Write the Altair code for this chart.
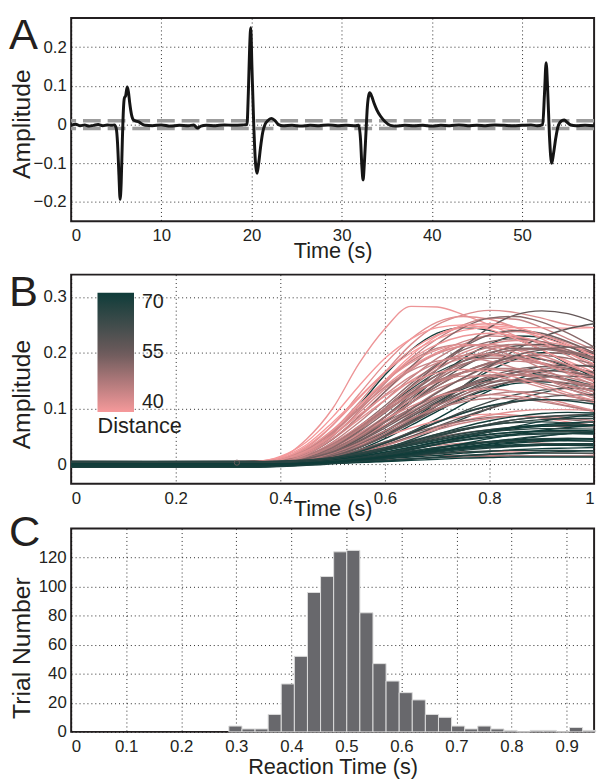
import altair as alt
import pandas as pd

FONT = "Liberation Sans"
TXT = "#231f20"

# ---------------- Panel A: single trace ----------------
a_time = [0, 0.5, 1.0, 1.5, 2.0, 2.5, 3.0, 3.5, 4.0, 4.5, 4.8, 5.0, 5.15, 5.3, 5.43, 5.55, 5.68,
          5.8, 5.9, 6.05, 6.22, 6.35, 6.5, 6.7, 6.9, 7.2, 7.5, 7.8, 8.2, 9, 10, 11, 12, 13, 13.6,
          14.0, 14.4, 15, 16, 17, 18, 19, 19.5, 19.65, 19.8, 19.92, 20.05, 20.25, 20.45, 20.62,
          20.8, 21.0, 21.25, 21.5, 21.8, 22.2, 22.6, 23.0, 23.5, 24.5, 25.5, 26.5, 27.5, 28.5,
          29.5, 30.5, 31.5, 31.9, 32.1, 32.25, 32.38, 32.52, 32.7, 32.85, 33.0, 33.12, 33.35,
          33.6, 33.9, 34.3, 34.8, 35.4, 36, 37, 38, 39, 40, 41, 42, 43, 44, 45, 46, 47, 48, 49,
          50, 51, 51.7, 52.3, 52.5, 52.68, 52.85, 53.05, 53.3, 53.5, 53.75, 54.0, 54.4, 54.7,
          55.0, 55.4, 56, 57, 58]
a_amp = [-0.002, 0.001, -0.003, -0.001, -0.004, -0.002, 0.000, -0.003, -0.001, -0.002, -0.001,
         -0.010, -0.050, -0.130, -0.193, -0.150, -0.040, 0.040, 0.068, 0.075, 0.097, 0.085, 0.055,
         0.025, 0.012, 0.009, 0.007, 0.002, -0.002, -0.003, -0.001, -0.004, -0.002, -0.003,
         -0.001, -0.009, -0.004, -0.002, -0.003, -0.001, -0.002, -0.001, 0.000, 0.080, 0.200,
         0.250, 0.150, 0.000, -0.100, -0.126, -0.100, -0.060, -0.020, 0.000, 0.010, 0.016,
         0.010, 0.000, -0.003, -0.002, -0.004, -0.002, -0.003, -0.001, -0.003, -0.002, -0.003,
         -0.002, -0.040, -0.110, -0.143, -0.100, -0.020, 0.045, 0.075, 0.082, 0.072, 0.055,
         0.038, 0.022, 0.008, -0.002, -0.004, -0.002, -0.003, -0.002, -0.004, -0.002, -0.003,
         -0.001, -0.003, -0.002, -0.003, -0.001, -0.002, -0.003, -0.002, -0.001, -0.003, 0.000,
         0.080, 0.160, 0.090, -0.030, -0.100, -0.075, -0.035, -0.005, 0.010, 0.012, 0.006,
         -0.001, -0.003, -0.002, -0.003]
a_threshold = [0.01, -0.01]

# ---------------- Panel B: response curves (listed in drawing order) ----------------
b_time = [0, 0.30, 0.35, 0.40, 0.45, 0.50, 0.55, 0.60, 0.65, 0.70, 0.75, 0.80, 0.85, 0.90, 0.95, 1.00]
b_distance = [69, 68, 70, 70, 64, 66, 70, 66, 62,
              41, 43, 42, 45, 40, 44, 46, 41, 43, 47, 42, 45, 48, 44, 40, 46, 49, 43, 47, 41, 44, 42,
              56, 58, 52, 54, 51, 57, 53, 59, 55, 50, 58, 52, 56, 54, 60, 51,
              45, 48, 50, 42, 46, 53, 44, 49, 41, 55, 47, 43, 57, 45, 46, 42,
              40, 43, 47, 50, 45, 52, 41, 48, 44, 54, 46, 42,
              67, 69, 65, 70, 68, 66, 70, 69, 67, 70, 65, 68, 70, 63, 69, 67, 70, 64, 68,
              70, 68, 66, 69, 70, 67, 70, 65, 69, 70, 68, 66]
b_amplitude = [
    # dark, high
    [0.000, 0.001, 0.002, 0.005, 0.020, 0.055, 0.105, 0.160, 0.205, 0.235, 0.245, 0.240, 0.225, 0.205, 0.180, 0.155],
    [-0.004, -0.005, -0.005, 0.002, 0.008, 0.022, 0.045, 0.078, 0.115, 0.155, 0.190, 0.215, 0.230, 0.228, 0.212, 0.190],
    [0.004, 0.003, 0.003, 0.001, 0.005, 0.014, 0.030, 0.052, 0.080, 0.110, 0.140, 0.168, 0.188, 0.200, 0.198, 0.185],
    [0.002, 0.003, 0.003, 0.001, 0.004, 0.010, 0.022, 0.038, 0.058, 0.082, 0.108, 0.132, 0.152, 0.166, 0.170, 0.165],
    [-0.005, -0.004, -0.004, 0.002, 0.007, 0.018, 0.035, 0.058, 0.085, 0.112, 0.135, 0.152, 0.160, 0.160, 0.152, 0.140],
    [0.002, 0.002, 0.003, 0.004, 0.014, 0.035, 0.065, 0.100, 0.135, 0.165, 0.185, 0.195, 0.195, 0.188, 0.175, 0.160],
    [-0.003, -0.004, -0.004, 0.001, 0.004, 0.012, 0.026, 0.046, 0.070, 0.095, 0.118, 0.135, 0.145, 0.148, 0.145, 0.138],
    [-0.002, -0.003, -0.003, 0.001, 0.003, 0.008, 0.016, 0.028, 0.044, 0.062, 0.082, 0.100, 0.116, 0.128, 0.138, 0.145],
    [-0.004, -0.004, -0.004, 0.001, 0.004, 0.011, 0.022, 0.037, 0.055, 0.075, 0.095, 0.112, 0.125, 0.133, 0.136, 0.135],
    # pink
    [0.003, 0.002, 0.005, 0.012, 0.045, 0.100, 0.180, 0.243, 0.283, 0.282, 0.268, 0.250, 0.230, 0.205, 0.185, 0.165],
    [-0.002, -0.001, 0.001, 0.008, 0.025, 0.060, 0.110, 0.165, 0.215, 0.250, 0.268, 0.276, 0.272, 0.262, 0.250, 0.245],
    [0.001, 0.002, 0.005, 0.010, 0.030, 0.070, 0.125, 0.180, 0.225, 0.255, 0.265, 0.260, 0.245, 0.225, 0.200, 0.175],
    [-0.004, -0.003, -0.002, 0.006, 0.020, 0.050, 0.095, 0.145, 0.190, 0.225, 0.250, 0.262, 0.260, 0.245, 0.225, 0.205],
    [0.004, 0.003, 0.005, 0.007, 0.022, 0.055, 0.100, 0.150, 0.195, 0.230, 0.245, 0.248, 0.245, 0.245, 0.244, 0.245],
    [0.000, 0.001, 0.002, 0.005, 0.018, 0.045, 0.085, 0.130, 0.170, 0.200, 0.220, 0.230, 0.228, 0.215, 0.195, 0.170],
    [-0.003, -0.002, -0.001, 0.004, 0.015, 0.040, 0.075, 0.115, 0.155, 0.190, 0.215, 0.232, 0.238, 0.232, 0.218, 0.200],
    [0.002, 0.003, 0.005, 0.008, 0.025, 0.058, 0.100, 0.140, 0.175, 0.200, 0.212, 0.215, 0.205, 0.190, 0.170, 0.150],
    [-0.001, 0.000, 0.001, 0.003, 0.010, 0.030, 0.060, 0.100, 0.140, 0.175, 0.200, 0.215, 0.222, 0.220, 0.212, 0.200],
    [0.003, 0.004, 0.004, 0.002, 0.008, 0.025, 0.050, 0.085, 0.120, 0.155, 0.185, 0.205, 0.215, 0.215, 0.205, 0.190],
    [-0.005, -0.004, -0.002, 0.006, 0.020, 0.045, 0.080, 0.115, 0.150, 0.175, 0.190, 0.195, 0.190, 0.180, 0.165, 0.150],
    [0.001, 0.000, 0.001, 0.004, 0.012, 0.030, 0.055, 0.085, 0.115, 0.145, 0.165, 0.180, 0.185, 0.180, 0.170, 0.155],
    [-0.002, -0.003, -0.003, 0.002, 0.008, 0.020, 0.040, 0.070, 0.100, 0.130, 0.155, 0.175, 0.190, 0.198, 0.200, 0.198],
    [0.004, 0.005, 0.006, 0.005, 0.015, 0.035, 0.065, 0.095, 0.125, 0.150, 0.165, 0.170, 0.165, 0.155, 0.140, 0.125],
    [-0.001, -0.002, 0.001, 0.012, 0.035, 0.075, 0.120, 0.165, 0.200, 0.225, 0.240, 0.245, 0.240, 0.228, 0.212, 0.195],
    [0.002, 0.001, 0.001, 0.003, 0.010, 0.025, 0.045, 0.070, 0.095, 0.120, 0.140, 0.155, 0.160, 0.158, 0.150, 0.140],
    [-0.004, -0.005, -0.005, 0.002, 0.006, 0.015, 0.030, 0.050, 0.075, 0.100, 0.125, 0.145, 0.160, 0.170, 0.175, 0.178],
    [0.000, -0.001, 0.000, 0.004, 0.012, 0.028, 0.048, 0.070, 0.090, 0.108, 0.120, 0.125, 0.122, 0.115, 0.105, 0.095],
    [0.003, 0.002, 0.002, 0.002, 0.007, 0.018, 0.035, 0.055, 0.078, 0.098, 0.115, 0.125, 0.130, 0.128, 0.122, 0.115],
    [-0.003, -0.002, -0.001, 0.003, 0.009, 0.020, 0.035, 0.050, 0.065, 0.078, 0.086, 0.090, 0.088, 0.083, 0.076, 0.070],
    [0.001, 0.002, 0.002, 0.001, 0.003, 0.006, 0.010, 0.013, 0.015, 0.016, 0.016, 0.016, 0.015, 0.015, 0.014, 0.014],
    [-0.002, -0.001, -0.001, 0.001, 0.004, 0.010, 0.020, 0.035, 0.050, 0.065, 0.078, 0.088, 0.095, 0.098, 0.098, 0.096],
    # mauve
    [0.002, 0.003, 0.003, 0.003, 0.010, 0.025, 0.050, 0.085, 0.125, 0.170, 0.210, 0.245, 0.268, 0.275, 0.270, 0.255],
    [-0.003, -0.004, -0.004, 0.002, 0.006, 0.015, 0.030, 0.050, 0.075, 0.105, 0.140, 0.175, 0.205, 0.228, 0.243, 0.252],
    [0.004, 0.003, 0.004, 0.005, 0.018, 0.045, 0.085, 0.130, 0.175, 0.215, 0.245, 0.262, 0.265, 0.255, 0.235, 0.210],
    [-0.001, 0.000, 0.000, 0.003, 0.012, 0.030, 0.060, 0.100, 0.140, 0.178, 0.210, 0.232, 0.240, 0.235, 0.220, 0.200],
    [0.001, 0.002, 0.003, 0.004, 0.014, 0.035, 0.068, 0.105, 0.145, 0.180, 0.205, 0.220, 0.225, 0.220, 0.205, 0.185],
    [-0.004, -0.003, -0.003, 0.002, 0.008, 0.022, 0.045, 0.075, 0.110, 0.145, 0.175, 0.198, 0.212, 0.215, 0.210, 0.198],
    [0.003, 0.004, 0.004, 0.003, 0.010, 0.025, 0.048, 0.078, 0.110, 0.140, 0.165, 0.182, 0.190, 0.188, 0.178, 0.162],
    [-0.002, -0.001, -0.001, 0.001, 0.005, 0.014, 0.030, 0.052, 0.078, 0.105, 0.130, 0.150, 0.165, 0.175, 0.178, 0.175],
    [0.000, 0.001, 0.001, 0.002, 0.007, 0.018, 0.036, 0.060, 0.085, 0.110, 0.130, 0.145, 0.152, 0.150, 0.142, 0.130],
    [0.005, 0.004, 0.005, 0.004, 0.012, 0.028, 0.050, 0.075, 0.100, 0.122, 0.138, 0.148, 0.150, 0.145, 0.135, 0.122],
    [-0.005, -0.004, -0.004, 0.001, 0.004, 0.010, 0.020, 0.034, 0.050, 0.068, 0.085, 0.100, 0.112, 0.120, 0.124, 0.125],
    [0.002, 0.001, 0.001, 0.002, 0.006, 0.014, 0.026, 0.040, 0.055, 0.068, 0.078, 0.084, 0.086, 0.084, 0.080, 0.075],
    [-0.001, -0.002, -0.002, 0.001, 0.004, 0.010, 0.018, 0.028, 0.038, 0.048, 0.056, 0.062, 0.066, 0.068, 0.068, 0.067],
    [0.003, 0.002, 0.002, 0.002, 0.008, 0.020, 0.040, 0.065, 0.092, 0.118, 0.140, 0.158, 0.170, 0.175, 0.172, 0.165],
    [-0.003, -0.002, -0.002, 0.001, 0.003, 0.008, 0.016, 0.026, 0.038, 0.050, 0.062, 0.072, 0.080, 0.085, 0.088, 0.090],
    [0.001, 0.000, 0.000, 0.001, 0.002, 0.004, 0.006, 0.008, 0.010, 0.012, 0.013, 0.014, 0.015, 0.015, 0.015, 0.015],
    # mixed middle band
    [0.002, 0.001, 0.002, 0.006, 0.022, 0.055, 0.100, 0.148, 0.185, 0.208, 0.215, 0.208, 0.192, 0.172, 0.150, 0.130],
    [-0.002, -0.003, -0.003, 0.003, 0.012, 0.032, 0.062, 0.098, 0.132, 0.160, 0.180, 0.190, 0.190, 0.182, 0.170, 0.155],
    [0.003, 0.002, 0.002, 0.002, 0.009, 0.024, 0.048, 0.078, 0.110, 0.140, 0.165, 0.182, 0.192, 0.195, 0.190, 0.180],
    [-0.003, -0.004, -0.002, 0.009, 0.028, 0.062, 0.105, 0.148, 0.182, 0.205, 0.215, 0.212, 0.200, 0.182, 0.162, 0.142],
    [0.001, 0.000, 0.000, 0.003, 0.010, 0.026, 0.050, 0.080, 0.110, 0.135, 0.152, 0.160, 0.160, 0.153, 0.142, 0.130],
    [-0.001, -0.002, -0.002, 0.002, 0.007, 0.018, 0.036, 0.060, 0.088, 0.115, 0.138, 0.155, 0.165, 0.168, 0.165, 0.158],
    [0.004, 0.003, 0.004, 0.005, 0.016, 0.038, 0.068, 0.100, 0.128, 0.148, 0.158, 0.158, 0.150, 0.138, 0.124, 0.110],
    [-0.004, -0.003, -0.003, 0.002, 0.006, 0.016, 0.032, 0.055, 0.080, 0.105, 0.125, 0.140, 0.148, 0.150, 0.146, 0.138],
    [0.002, 0.003, 0.005, 0.008, 0.026, 0.060, 0.105, 0.150, 0.188, 0.215, 0.230, 0.235, 0.230, 0.218, 0.200, 0.180],
    [0.000, 0.001, 0.001, 0.002, 0.006, 0.015, 0.030, 0.050, 0.074, 0.098, 0.120, 0.138, 0.150, 0.156, 0.158, 0.155],
    [-0.002, -0.001, -0.001, 0.002, 0.008, 0.020, 0.038, 0.060, 0.082, 0.100, 0.112, 0.118, 0.118, 0.112, 0.104, 0.095],
    [0.003, 0.004, 0.005, 0.004, 0.013, 0.030, 0.054, 0.080, 0.104, 0.122, 0.132, 0.135, 0.130, 0.120, 0.108, 0.096],
    [-0.003, -0.002, -0.002, 0.001, 0.005, 0.012, 0.024, 0.040, 0.058, 0.076, 0.092, 0.104, 0.112, 0.116, 0.116, 0.113],
    [0.001, 0.002, 0.002, 0.001, 0.004, 0.010, 0.020, 0.033, 0.048, 0.062, 0.074, 0.082, 0.086, 0.086, 0.083, 0.078],
    [0.000, -0.001, -0.001, 0.001, 0.003, 0.008, 0.014, 0.021, 0.028, 0.034, 0.038, 0.040, 0.040, 0.038, 0.036, 0.034],
    [-0.001, 0.000, 0.000, 0.001, 0.002, 0.005, 0.009, 0.013, 0.017, 0.020, 0.022, 0.023, 0.022, 0.021, 0.020, 0.019],
    # more pink / mauve
    [0.002, 0.002, 0.004, 0.014, 0.040, 0.085, 0.140, 0.190, 0.225, 0.245, 0.250, 0.242, 0.225, 0.205, 0.182, 0.160],
    [-0.003, -0.003, -0.001, 0.006, 0.022, 0.052, 0.092, 0.135, 0.172, 0.198, 0.212, 0.215, 0.208, 0.195, 0.178, 0.160],
    [0.001, 0.001, 0.002, 0.004, 0.014, 0.034, 0.064, 0.100, 0.138, 0.170, 0.195, 0.210, 0.215, 0.212, 0.202, 0.188],
    [-0.001, -0.001, 0.000, 0.003, 0.010, 0.026, 0.052, 0.085, 0.120, 0.152, 0.178, 0.195, 0.205, 0.206, 0.200, 0.190],
    [0.003, 0.003, 0.004, 0.009, 0.026, 0.058, 0.098, 0.138, 0.168, 0.185, 0.190, 0.185, 0.172, 0.155, 0.136, 0.118],
    [-0.002, -0.002, -0.001, 0.003, 0.012, 0.030, 0.058, 0.092, 0.128, 0.160, 0.185, 0.200, 0.208, 0.208, 0.202, 0.192],
    [0.000, 0.000, 0.002, 0.010, 0.032, 0.070, 0.118, 0.165, 0.205, 0.232, 0.248, 0.252, 0.246, 0.232, 0.215, 0.195],
    [0.004, 0.004, 0.004, 0.007, 0.016, 0.036, 0.064, 0.096, 0.126, 0.150, 0.165, 0.172, 0.170, 0.162, 0.150, 0.136],
    [-0.004, -0.004, -0.003, 0.003, 0.018, 0.046, 0.084, 0.124, 0.158, 0.182, 0.195, 0.198, 0.192, 0.180, 0.165, 0.148],
    [0.002, 0.002, 0.002, 0.004, 0.010, 0.022, 0.042, 0.068, 0.098, 0.128, 0.155, 0.178, 0.195, 0.205, 0.210, 0.210],
    [-0.001, -0.001, 0.000, 0.004, 0.014, 0.034, 0.062, 0.094, 0.124, 0.148, 0.164, 0.172, 0.172, 0.166, 0.156, 0.144],
    [0.001, 0.001, 0.002, 0.008, 0.024, 0.052, 0.088, 0.122, 0.148, 0.164, 0.170, 0.166, 0.156, 0.142, 0.128, 0.114],
    # dark, low band (drawn last)
    [0.005, 0.004, 0.004, 0.001, 0.004, 0.011, 0.022, 0.038, 0.056, 0.075, 0.092, 0.105, 0.113, 0.116, 0.114, 0.108],
    [-0.001, 0.000, 0.000, 0.001, 0.003, 0.008, 0.016, 0.027, 0.040, 0.054, 0.067, 0.078, 0.086, 0.091, 0.093, 0.092],
    [0.001, 0.000, 0.000, 0.001, 0.004, 0.010, 0.019, 0.030, 0.042, 0.054, 0.064, 0.071, 0.075, 0.076, 0.074, 0.070],
    [-0.003, -0.002, -0.002, 0.001, 0.002, 0.006, 0.012, 0.020, 0.030, 0.040, 0.050, 0.058, 0.064, 0.068, 0.070, 0.070],
    [0.003, 0.002, 0.002, 0.001, 0.003, 0.007, 0.013, 0.020, 0.028, 0.036, 0.043, 0.048, 0.052, 0.054, 0.055, 0.054],
    [-0.002, -0.001, -0.001, 0.001, 0.002, 0.005, 0.010, 0.016, 0.023, 0.030, 0.036, 0.041, 0.044, 0.046, 0.047, 0.046],
    [0.000, -0.001, -0.001, 0.000, 0.002, 0.004, 0.008, 0.013, 0.019, 0.025, 0.031, 0.036, 0.040, 0.043, 0.045, 0.046],
    [0.002, 0.001, 0.001, 0.001, 0.002, 0.005, 0.009, 0.014, 0.020, 0.026, 0.030, 0.033, 0.035, 0.036, 0.036, 0.035],
    [-0.004, -0.003, -0.003, 0.000, 0.001, 0.003, 0.006, 0.010, 0.015, 0.020, 0.025, 0.029, 0.032, 0.034, 0.035, 0.035],
    [0.004, 0.005, 0.005, 0.003, 0.004, 0.005, 0.007, 0.010, 0.013, 0.016, 0.020, 0.023, 0.026, 0.028, 0.029, 0.030],
    [-0.001, -0.002, -0.002, 0.001, 0.002, 0.004, 0.007, 0.011, 0.015, 0.019, 0.022, 0.024, 0.025, 0.025, 0.025, 0.024],
    [0.001, 0.002, 0.002, 0.001, 0.001, 0.002, 0.004, 0.006, 0.009, 0.012, 0.015, 0.018, 0.020, 0.022, 0.023, 0.024],
    [-0.005, -0.005, -0.005, -0.003, 0.001, 0.003, 0.006, 0.010, 0.016, 0.023, 0.030, 0.037, 0.044, 0.050, 0.055, 0.058],
    [0.005, 0.005, 0.005, 0.004, 0.005, 0.008, 0.015, 0.025, 0.037, 0.050, 0.062, 0.072, 0.080, 0.085, 0.087, 0.086],
    [-0.002, -0.002, -0.002, 0.000, 0.002, 0.005, 0.010, 0.017, 0.026, 0.036, 0.047, 0.058, 0.068, 0.077, 0.084, 0.089],
    [0.003, 0.004, 0.004, 0.002, 0.002, 0.003, 0.004, 0.007, 0.010, 0.013, 0.016, 0.018, 0.019, 0.020, 0.020, 0.020],
    [0.000, 0.000, 0.000, 0.000, 0.001, 0.002, 0.003, 0.005, 0.007, 0.009, 0.011, 0.012, 0.013, 0.013, 0.013, 0.013],
    [-0.001, -0.001, -0.001, 0.001, 0.003, 0.007, 0.013, 0.021, 0.030, 0.039, 0.047, 0.053, 0.057, 0.059, 0.059, 0.058],
    [0.001, 0.001, 0.001, 0.000, 0.002, 0.004, 0.008, 0.013, 0.019, 0.026, 0.033, 0.040, 0.046, 0.051, 0.055, 0.058],
    [0.002, 0.002, 0.002, 0.002, 0.004, 0.008, 0.014, 0.022, 0.031, 0.040, 0.048, 0.054, 0.058, 0.060, 0.061, 0.060],
    [-0.003, -0.003, -0.003, -0.002, 0.000, 0.004, 0.010, 0.018, 0.027, 0.036, 0.044, 0.050, 0.054, 0.056, 0.056, 0.055],
    [0.001, 0.001, 0.001, 0.002, 0.005, 0.010, 0.017, 0.026, 0.036, 0.046, 0.055, 0.062, 0.067, 0.070, 0.071, 0.070],
    [-0.002, -0.002, -0.002, -0.001, 0.001, 0.004, 0.009, 0.015, 0.022, 0.029, 0.035, 0.040, 0.043, 0.045, 0.046, 0.046],
    [0.004, 0.004, 0.004, 0.005, 0.007, 0.011, 0.017, 0.025, 0.034, 0.043, 0.052, 0.060, 0.066, 0.071, 0.074, 0.076],
    [0.000, 0.000, 0.000, 0.001, 0.003, 0.006, 0.011, 0.017, 0.024, 0.030, 0.036, 0.040, 0.042, 0.043, 0.042, 0.041],
    [-0.004, -0.004, -0.004, -0.003, -0.001, 0.002, 0.006, 0.011, 0.017, 0.023, 0.029, 0.034, 0.038, 0.041, 0.043, 0.044],
    [0.003, 0.003, 0.003, 0.004, 0.007, 0.012, 0.020, 0.030, 0.041, 0.052, 0.062, 0.070, 0.076, 0.080, 0.082, 0.082],
    [-0.001, -0.001, -0.001, 0.000, 0.002, 0.005, 0.009, 0.014, 0.019, 0.024, 0.028, 0.031, 0.033, 0.034, 0.034, 0.033],
    [0.001, 0.001, 0.001, 0.001, 0.002, 0.004, 0.008, 0.013, 0.020, 0.028, 0.037, 0.046, 0.054, 0.061, 0.066, 0.070],
    [-0.005, -0.005, -0.005, -0.004, -0.002, 0.001, 0.005, 0.010, 0.016, 0.022, 0.027, 0.031, 0.034, 0.036, 0.037, 0.037],
    [0.005, 0.005, 0.005, 0.006, 0.008, 0.012, 0.018, 0.026, 0.035, 0.044, 0.052, 0.058, 0.062, 0.064, 0.064, 0.063],
]
b_marker_time = [0.317]
b_marker_amp = [0.003]
legend_values = [40, 55, 70]
legend_colors = ["#f6999b", "#6b5a5b", "#0f3c39"]

# ---------------- Panel C: histogram ----------------
c_bin_start = [0.2865, 0.3103, 0.3341, 0.3579, 0.3817, 0.4055, 0.4293, 0.4531, 0.4769, 0.5007,
               0.5245, 0.5483, 0.5721, 0.5959, 0.6197, 0.6435, 0.6673, 0.6911, 0.7149, 0.7387,
               0.7625, 0.7863, 0.8101, 0.8339, 0.8577, 0.8815, 0.9053, 0.9291]
c_bin_end = [0.3103, 0.3341, 0.3579, 0.3817, 0.4055, 0.4293, 0.4531, 0.4769, 0.5007, 0.5245,
             0.5483, 0.5721, 0.5959, 0.6197, 0.6435, 0.6673, 0.6911, 0.7149, 0.7387, 0.7625,
             0.7863, 0.8101, 0.8339, 0.8577, 0.8815, 0.9053, 0.9291, 0.9529]
c_count = [4, 2, 2, 12, 33, 52, 96, 107, 124, 125, 82, 47, 35, 27, 22, 12, 10, 4, 2, 4, 2, 1, 0,
           1, 1, 0, 3, 1]

# ---------------- helpers ----------------
W = 530
HA, HB, HC = 206, 212, 206
HIDE_ODD = "round(datum.value * 20) % 2 == 0 ? datum.label : ''"
FMT = ".2~f"


def axis(**kw):
    base = dict(labelFont=FONT, labelFontSize=17, labelColor=TXT, titleFont=FONT,
                titleColor=TXT, titleFontWeight="normal", grid=True, gridDash=[1, 3],
                gridColor="#111111", gridWidth=0.9, domain=False, ticks=False, format=FMT)
    base.update(kw)
    return alt.Axis(**base)


def xaxis(values, title, title_y, pad, **kw):
    return axis(values=values, title=title, titleFontSize=22, titleY=title_y,
                titleBaseline="alphabetic", labelPadding=pad, **kw)


def yaxis(values, title, title_y, **kw):
    return axis(values=values, title=title, titleFontSize=25, titleX=-42, titleY=title_y,
                titleAngle=270, titleBaseline="alphabetic", titleAlign="center",
                labelPadding=5, **kw)


def letter(txt, y):
    return alt.Chart(pd.DataFrame({"label": [txt]})).mark_text(
        font=FONT, fontSize=44, align="left", baseline="top", color=TXT
    ).encode(x=alt.value(-63), y=alt.value(y), text="label:N")


# ---------------- Panel A ----------------
dfA = pd.DataFrame({"t": a_time, "amp": a_amp})
yA_scale = alt.Scale(domain=[-0.25, 0.275], nice=False, zero=False)
xA = alt.X("t:Q", scale=alt.Scale(domain=[0, 58], nice=False, zero=False),
           axis=xaxis([0, 10, 20, 30, 40, 50], "Time (s)", 36.7, 6))
yA_vals = [-0.2, -0.15, -0.1, -0.05, 0, 0.05, 0.1, 0.15, 0.2, 0.25]
yA = alt.Y("amp:Q", scale=yA_scale,
           axis=yaxis(yA_vals, "Amplitude", 107, labelExpr=HIDE_ODD))
trace = alt.Chart(dfA).mark_line(color="#151515", strokeWidth=3, interpolate="monotone").encode(x=xA, y=yA)
dashes = alt.Chart(pd.DataFrame({"amp": a_threshold})).mark_rule(
    color="#9c9c9c", strokeWidth=3.5, strokeDash=[18, 7]
).encode(y=alt.Y("amp:Q", scale=yA_scale))
spacer = alt.Chart(pd.DataFrame({"s": [0]})).mark_rule(opacity=0, strokeWidth=1).encode(
    x=alt.value(0), x2=alt.value(1), y=alt.value(258.1))
panelA = alt.layer(dashes, trace, spacer, letter("A", -4)).properties(width=W, height=HA)

# ---------------- Panel B ----------------
rows = []
for i, (d, vals) in enumerate(zip(b_distance, b_amplitude)):
    for t, v in zip(b_time, vals):
        rows.append({"curve": i, "distance": d, "t": t, "amp": v})
dfB = pd.DataFrame(rows)
xB_scale = alt.Scale(domain=[0, 1], nice=False, zero=False)
yB_scale = alt.Scale(domain=[-0.035, 0.34], nice=False, zero=False)
yB_vals = [0, 0.05, 0.1, 0.15, 0.2, 0.25, 0.3]
curves = alt.Chart(dfB).mark_line(strokeWidth=1.4, interpolate="monotone", clip=True).encode(
    x=alt.X("t:Q", scale=xB_scale, axis=xaxis([0, 0.2, 0.4, 0.6, 0.8, 1.0], "Time (s)", 31.7, 7)),
    y=alt.Y("amp:Q", scale=yB_scale, axis=yaxis(yB_vals, "Amplitude", 121, labelExpr=HIDE_ODD)),
    color=alt.Color("distance:Q",
                    scale=alt.Scale(domain=legend_values, range=legend_colors, interpolate="rgb"),
                    legend=alt.Legend(orient="none", legendX=26.7, legendY=18.3,
                                      direction="vertical", gradientLength=121,
                                      gradientThickness=37, gradientStrokeWidth=0,
                                      values=legend_values, title="Distance",
                                      titleOrient="bottom", titleAnchor="start",
                                      titleFont=FONT, titleFontSize=22,
                                      titleFontWeight="normal", titleColor=TXT,
                                      titlePadding=4, labelFont=FONT, labelFontSize=20,
                                      labelColor=TXT, labelOffset=8)),
    detail="curve:N",
)
marker = alt.Chart(pd.DataFrame({"t": b_marker_time, "amp": b_marker_amp})).mark_point(
    shape="circle", size=28, filled=False, color="#8a6a6a", strokeWidth=1
).encode(x=alt.X("t:Q", scale=xB_scale), y=alt.Y("amp:Q", scale=yB_scale))
panelB = alt.layer(curves, marker, letter("B", -3)).properties(width=W, height=HB)

# ---------------- Panel C ----------------
dfC = pd.DataFrame({"start": c_bin_start, "end": c_bin_end, "count": c_count})
bars = alt.Chart(dfC).mark_bar(color="#68686c", stroke="#dcdcdc", strokeWidth=1).encode(
    x=alt.X("start:Q", scale=alt.Scale(domain=[0, 0.95], nice=False, zero=False),
            axis=xaxis([0, 0.1, 0.2, 0.3, 0.4, 0.5, 0.6, 0.7, 0.8, 0.9], "Reaction Time (s)", 42.6, 7)),
    x2="end:Q",
    y=alt.Y("count:Q", scale=alt.Scale(domain=[0, 140], nice=False),
            axis=yaxis([0, 20, 40, 60, 80, 100, 120], "Trial Number", 120.6)),
    y2=alt.datum(0),
)
panelC = alt.layer(bars, letter("C", -17.5)).properties(width=W, height=HC)

chart = alt.vconcat(panelA, panelB, panelC, spacing=-10.6).resolve_scale(
    color="independent"
).resolve_legend(color="independent").properties(
    padding=0, background="white"
).configure_view(stroke=TXT, strokeWidth=2)

chart.save("out.html", embed_options={"renderer": "svg", "actions": False})
